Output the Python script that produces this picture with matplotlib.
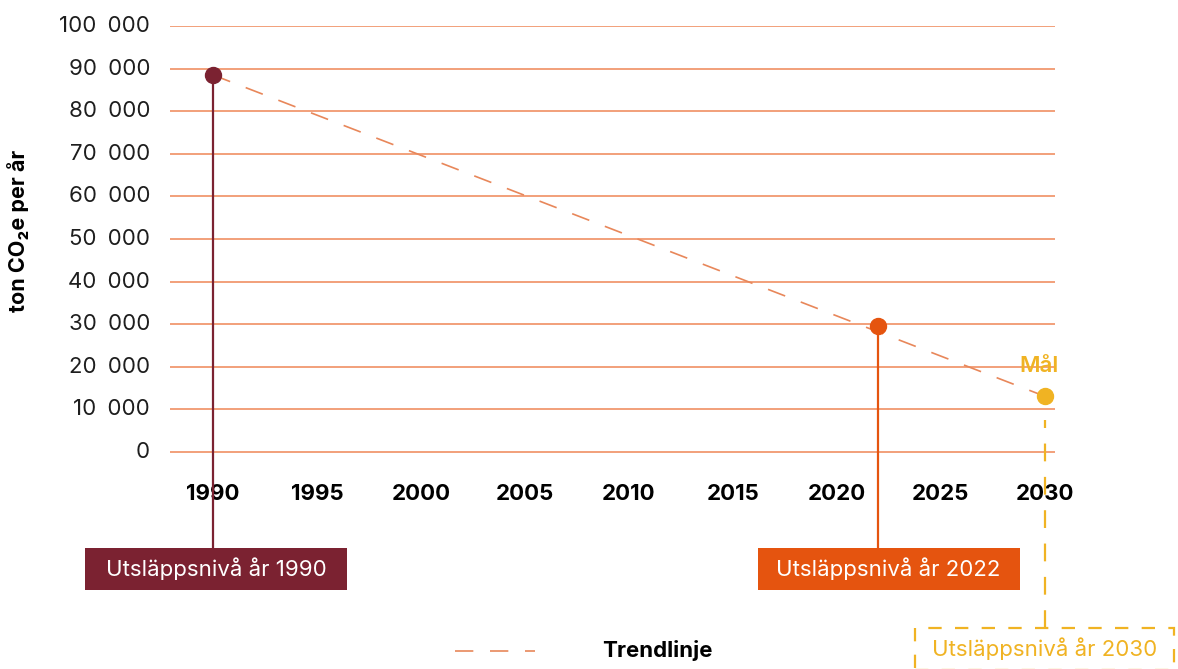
import matplotlib.pyplot as plt
from matplotlib.patches import Rectangle

plt.rcParams['font.family'] = ['Inter', 'DejaVu Sans']

# utsläpp per år (ton CO2e)
years = [1990, 2022, 2030]
emissions = [88500, 29600, 13100]
labels = ['Utsläppsnivå år 1990', 'Utsläppsnivå år 2022', 'Utsläppsnivå år 2030']
colors = ['#7b2231', '#e5540f', '#f0b323']

x_ticks = [1990, 1995, 2000, 2005, 2010, 2015, 2020, 2025, 2030]
y_ticks = [0, 10000, 20000, 30000, 40000, 50000, 60000, 70000, 80000, 90000, 100000]

fig = plt.figure(figsize=(11.78, 6.69), dpi=100)
ax = fig.add_axes([170 / 1178, 0, 885 / 1178, 643 / 669])
ax.set_xlim(1987.93, 2030.5)
ax.set_ylim(-50940, 100000)
ax.axis('off')

# horisontella stödlinjer + y-etiketter
for v in y_ticks:
    ax.axhline(v, color='#f2a07a', lw=1.4, zorder=1)
    ax.text(1986.97, v, f'{v:,}'.replace(',', '\u2002'), ha='right', va='center',
            fontsize=16, color='#1e1e1e')

ax.text(1980.62, 52000, 'ton CO₂e per år', rotation=90, ha='center', va='center',
        fontsize=15.5, fontweight='bold', color='black', clip_on=False)

for x in x_ticks:
    ax.text(x, -9800, str(x), ha='center', va='center', fontsize=16,
            fontweight='bold', color='black')

# trendlinje
ax.plot([years[0], years[2]], [emissions[0], emissions[2]], color='#e8875a',
        lw=1.2, dashes=(11, 10), zorder=2)

# nivåer med etiketter
box_top = -22535
box_h = 9860
box_w = 12.6
ax.vlines(years[0], box_top, emissions[0], color=colors[0], lw=1.6, zorder=3)
ax.vlines(years[1], box_top, emissions[1], color=colors[1], lw=1.6, zorder=3)
ax.vlines(years[2], -41315, 7500, color=colors[2], lw=1.6, linestyles=(0, (8, 7)),
          zorder=3, clip_on=False)

for x, y, c in zip(years, emissions, colors):
    ax.plot(x, y, 'o', color=c, ms=11.5, zorder=4)

box_x = [years[0] + 0.14, years[1] + 0.5]
for bx, lab, c in zip(box_x, labels[:2], colors[:2]):
    ax.add_patch(Rectangle((bx - box_w / 2, box_top - box_h), box_w, box_h,
                           fc=c, ec='none', zorder=3, clip_on=False))
    ax.text(bx, box_top - box_h / 2, lab, ha='center', va='center', fontsize=16,
            color='white', zorder=4)

ax.add_patch(Rectangle((years[2] - 12.45 / 2, -41315 - box_h), 12.45, box_h,
                       fc='white', ec=colors[2], lw=1.6, ls=(0, (6, 6)), zorder=4,
                       clip_on=False))
ax.text(years[2], -41315 - box_h / 2, labels[2], ha='center', va='center',
        fontsize=16, color=colors[2], zorder=5, clip_on=False)

ax.text(years[2] - 0.25, 20300, 'Mål', ha='center', va='center', fontsize=16,
        fontweight='semibold', color=colors[2])

# legend
ax.plot([2001.63, 2005.48], [-46700, -46700], color='#e8875a', lw=1.2, dashes=(11, 10))
ax.text(2011.39, -46700, 'Trendlinje', ha='center', va='center', fontsize=16,
        fontweight='bold', color='black')

fig.savefig('out.png', dpi=100)
